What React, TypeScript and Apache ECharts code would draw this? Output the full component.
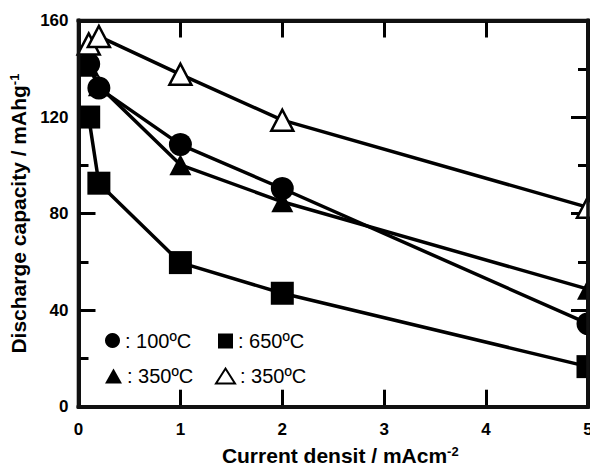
import React, { useEffect, useRef } from "react";
import * as echarts from "echarts";

// Data
const currentDensity = [0.1, 0.2, 1, 2, 5];
const cap100 = [142, 132, 108.6, 90.4, 34.4];
const cap350Filled = [141, 133, 100.2, 84.9, 48.7];
const cap650 = [120, 92.6, 59.7, 47, 16.6];
const cap350Open = [150.3, 153.4, 137.7, 118.7, 82.6];
const seriesNames = ["100ºC", "650ºC", "350ºC (filled)", "350ºC (open)"];
const legendLabels = ["100ºC", "650ºC", "350ºC", "350ºC"];
const xRange = [0, 5];
const yRange = [0, 160];

const FONT = "'Liberation Sans', Arial, Helvetica, sans-serif";

// plot-area layout (pixels)
const G_LEFT = 78.5;
const G_RIGHT = 588;
const G_TOP = 20.5;
const G_BOTTOM = 406.7;

function pairs(xs: number[], ys: number[]) {
  return xs.map((x, i) => [x, ys[i]]);
}

export default function App() {
  const ref = useRef<HTMLDivElement>(null);
  useEffect(() => {
    if (!ref.current) return;
    const chart = echarts.init(ref.current, undefined, { renderer: "svg" });
    const black = "#000";
    const frameColor = "#111";
    const tickStyle = { color: black, width: 3 };
    const mkAxisLine = () => ({ show: true, onZero: false, lineStyle: { color: frameColor, width: 4 } });
    const legendBase = {
      orient: "horizontal",
      padding: 0,
      itemWidth: 15,
      itemHeight: 15,
      selectedMode: false,
      textStyle: { fontSize: 20, fontFamily: FONT, color: black, lineHeight: 20 },
      formatter: (name: string) => ": " + legendLabels[seriesNames.indexOf(name)],
    };
    const lineSeries = (name: string, ys: number[], symbol: string, size: any, open: boolean) => ({
      name,
      type: "line",
      data: pairs(currentDensity, ys),
      symbol,
      symbolSize: size,
      showAllSymbol: true,
      clip: false,
      lineStyle: { color: black, width: 3.5 },
      itemStyle: open
        ? { color: "#fff", borderColor: black, borderWidth: 2.5 }
        : { color: black, borderWidth: 0 },
      emphasis: { disabled: true },
      z: open ? 4 : 3,
    });
    const supRich = {
      sup: { fontSize: 13, fontWeight: "bold", fontFamily: FONT, color: black, verticalAlign: "top", lineHeight: 12 },
    };
    const fw = 3.6;
    const side = (x: number, y: number, w: number, h: number) => ({
      type: "rect",
      z: 100,
      shape: { x, y, width: w, height: h },
      style: { fill: frameColor },
    });
    chart.setOption({
      animation: false,
      backgroundColor: "#fff",
      grid: {
        left: G_LEFT,
        right: 590 - G_RIGHT,
        top: G_TOP,
        bottom: 470 - G_BOTTOM,
        containLabel: false,
        outerBoundsMode: "none",
      },
      graphic: [
        side(G_LEFT - fw / 2, G_TOP - fw / 2, G_RIGHT - G_LEFT + fw, fw),
        side(G_LEFT - fw / 2, G_BOTTOM - fw / 2, G_RIGHT - G_LEFT + fw, fw),
        side(G_LEFT - fw / 2, G_TOP - fw / 2, fw, G_BOTTOM - G_TOP + fw),
        side(G_RIGHT - fw / 2, G_TOP - fw / 2, fw, G_BOTTOM - G_TOP + fw),
      ],
      legend: [
        { ...legendBase, left: 105, top: 330.5, data: [{ name: seriesNames[0], icon: "circle", itemStyle: { color: black, borderWidth: 0 } }] },
        { ...legendBase, left: 218, top: 331, data: [{ name: seriesNames[1], icon: "rect", itemStyle: { color: black, borderWidth: 0 } }] },
        { ...legendBase, left: 105, top: 366, itemWidth: 17, data: [{ name: seriesNames[2], icon: "triangle", itemStyle: { color: black, borderWidth: 0 } }] },
        { ...legendBase, left: 215, top: 366, itemWidth: 19, data: [{ name: seriesNames[3], icon: "triangle", itemStyle: { color: "#fff", borderColor: black, borderWidth: 2 } }] },
      ],
      xAxis: [
        {
          type: "value",
          min: xRange[0],
          max: xRange[1],
          interval: 1,
          position: "bottom",
          axisLine: mkAxisLine(),
          axisTick: { show: true, inside: true, length: 17, lineStyle: tickStyle },
          splitLine: { show: false },
          axisLabel: { fontSize: 17, fontWeight: "bold", fontFamily: FONT, color: black, margin: 14 },
          name: "Current densit / mAcm{sup|-2}",
          nameLocation: "middle",
          nameGap: 38,
          nameTextStyle: {
            fontSize: 21,
            fontWeight: "bold",
            fontFamily: FONT,
            color: black,
            padding: [0, 0, 0, 14],
            rich: supRich,
          },
        },
        {
          type: "value",
          min: xRange[0],
          max: xRange[1],
          interval: 1,
          position: "top",
          axisLine: mkAxisLine(),
          axisTick: { show: true, inside: true, length: 17, lineStyle: tickStyle },
          splitLine: { show: false },
          axisLabel: { show: false },
        },
      ],
      yAxis: [
        {
          type: "value",
          min: yRange[0],
          max: yRange[1],
          interval: 40,
          position: "left",
          axisLine: mkAxisLine(),
          axisTick: { show: true, inside: true, length: 17, lineStyle: tickStyle },
          minorTick: { show: true, splitNumber: 2, length: 10, lineStyle: tickStyle },
          splitLine: { show: false },
          minorSplitLine: { show: false },
          axisLabel: { fontSize: 17, fontWeight: "bold", fontFamily: FONT, color: black, margin: 10 },
          name: "Discharge capacity / mAhg{sup|-1}",
          nameLocation: "middle",
          nameRotate: 90,
          nameGap: 46,
          nameTextStyle: {
            fontSize: 21,
            fontWeight: "bold",
            fontFamily: FONT,
            color: black,
            rich: supRich,
          },
        },
        {
          type: "value",
          min: yRange[0],
          max: yRange[1],
          interval: 40,
          position: "right",
          axisLine: mkAxisLine(),
          axisTick: { show: true, inside: true, length: 17, lineStyle: tickStyle },
          minorTick: { show: true, splitNumber: 2, length: 10, lineStyle: tickStyle },
          splitLine: { show: false },
          minorSplitLine: { show: false },
          axisLabel: { show: false },
        },
      ],
      series: [
        lineSeries(seriesNames[2], cap350Filled, "triangle", [22, 21], false),
        lineSeries(seriesNames[0], cap100, "circle", 23, false),
        lineSeries(seriesNames[1], cap650, "rect", 23, false),
        lineSeries(seriesNames[3], cap350Open, "triangle", [22, 21], true),
      ],
    });
    return () => chart.dispose();
  }, []);
  return (
    <div
      ref={ref}
      style={{ position: "fixed", left: 0, top: 0, width: 590, height: 470, background: "#fff" }}
    />
  );
}
